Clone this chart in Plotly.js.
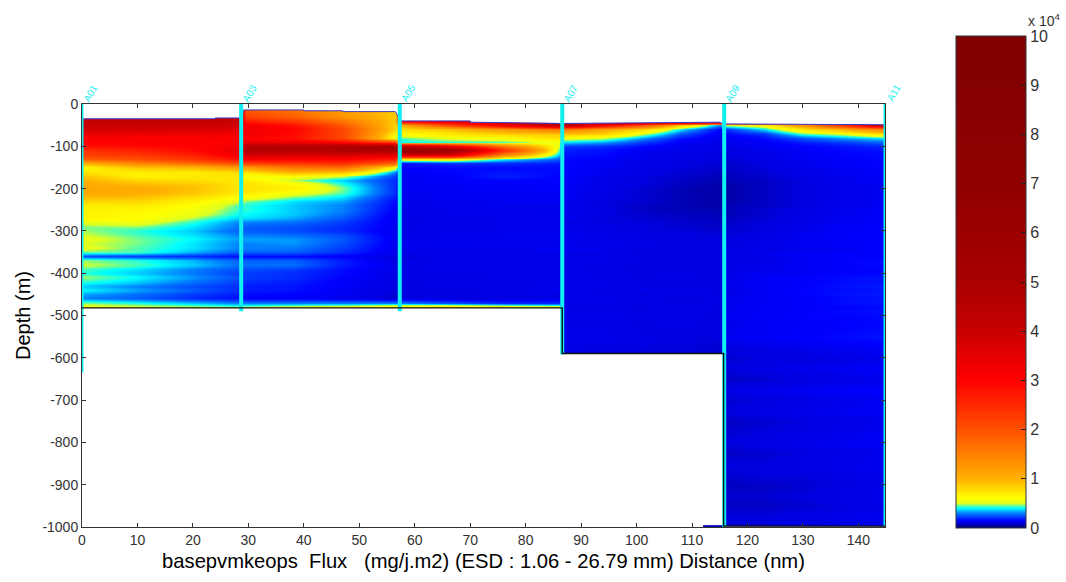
<!DOCTYPE html>
<html><head><meta charset="utf-8">
<script src="https://cdn.plot.ly/plotly-3.0.1.min.js"></script>
<style>html,body{margin:0;padding:0;background:#fff}#c{width:1066px;height:582px}</style>
</head><body><div id="c"></div>
<script>
// Depth rows (m)
const depths=[-10,-20,-30,-40,-50,-60,-70,-80,-90,-100,-110,-120,-130,-140,-150,-160,-170,-180,-190,-200,-210,-220,-230,-240,-250,-260,-270,-280,-290,-300,-310,-320,-330,-340,-350,-360,-370,-380,-390,-400,-410,-420,-430,-440,-450,-460,-470,-480,-490,-500,-525,-550,-575,-600,-625,-650,-675,-700,-725,-750,-775,-800,-825,-850,-875,-900,-925,-950,-975,-1000];
// Distance columns (nm)
const distances=[0,10,20,28.5,29.5,38,47,56.5,57.5,66,76,86,86.5,94,101,108,115,116,123,130,137,145];
// Flux, x 10^4, one profile per distance
const p000=[4,4,4,4.2,4,3.8,3.4,3,3,2.8, 2.4,2.2,1.8,1,.62,.72,.9,1,1.05,1.1, 1.05,.95,.8,.68,.65,.65,.65,.52,.46,.48, .5,.53,.5,.53,.45,.24,.47,.5,.44,.42, .48,.42,.36,.4,.33,.3,.47,.55,.55,.55];
const p010=[4,4,4,4.2,4,3.8,3.3,3,3,2.9, 2.6,2.3,2,1.4,.9,.68,.65,.8,.95,1.05, 1.02,.92,.8,.7,.64,.62,.62,.55,.46,.42, .44,.46,.46,.44,.44,.22,.42,.44,.38,.36, .4,.36,.3,.33,.28,.26,.42,.52,.52,.52];
const p020=[4,4,4,4.1,4,3.7,3.3,3,3,3, 2.9,2.6,2.3,1.7,.95,.7,.7,.76,.88,.92, .88,.76,.66,.6,.56,.54,.48,.42,.38,.36, .38,.4,.38,.38,.34,.2,.34,.36,.3,.29, .32,.28,.24,.26,.22,.2,.36,.5,.5,.5];
const p028=[4,4,4,4,3.8,3.5,3.2,3.1,3,3.2, 3.4,3.2,2.8,2,1.2,.78,.72,.7,.72,.72, .68,.6,.5,.44,.42,.4,.36,.3,.28,.26, .3,.32,.3,.3,.26,.16,.26,.28,.24,.22, .24,.22,.2,.2,.18,.16,.3,.48,.5,.5];
const p029=[1.9,2,2.2,2.7,3.2,3.3,3.2,3,3.4,4.6, 4.6,3.8,3,2.2,1.2,.72,.56,.68,.75,.75, .7,.58,.46,.42,.42,.4,.38,.3,.26,.26, .3,.33,.3,.3,.26,.16,.26,.28,.24,.22, .22,.2,.18,.18,.16,.14,.3,.5,.5,.5];
const p038=[1.7,1.7,1.9,2.3,2.8,3,2.9,2.8,3.3,4.6, 4.6,3.6,3,2.3,1.6,1,.6,.48,.62,.68, .55,.46,.38,.36,.36,.36,.33,.28,.24,.24, .28,.32,.32,.29,.26,.16,.26,.28,.22,.2, .2,.18,.17,.17,.15,.14,.3,.55,.55,.55];
const p047=[1.2,1.2,1.3,1.6,1.9,2.1,2.1,2.1,3,4.8, 4.8,3.6,3,2.4,1.7,.9,.5,.36,.42,.46, .44,.38,.33,.3,.3,.28,.25,.22,.2,.2, .24,.25,.24,.22,.2,.14,.18,.18,.16,.16, .15,.14,.14,.13,.13,.12,.3,.6,.6,.6];
const p056=[.85,.85,.85,.85,.8,.8,.65,.5,2.2,5, 4.8,3.4,2.6,1.8,.6,.3,.22,.2,.2,.2, .2,.18,.16,.15,.14,.13,.13,.13,.13,.12, .13,.13,.13,.12,.12,.1,.11,.12,.11,.11, .11,.1,.1,.1,.09,.09,.3,.7,.7,.7];
const p057=[3,3,3,3,1,.75,.6,.44,.4,4.5, 6,3.5,.6,.17,.15,.14,.13,.13,.13,.13, .13,.12,.12,.12,.11,.11,.11,.11,.11,.11, .12,.12,.12,.12,.12,.1,.11,.11,.11,.11, .11,.1,.1,.1,.1,.1,.3,.7,.7,.7];
const p066=[3.5,3.5,3.5,3.5,2,.9,.7,.52,.42,3.5, 5.5,3.5,.65,.2,.16,.15,.14,.14,.14,.13, .13,.13,.12,.12,.12,.12,.12,.11,.12,.12, .12,.12,.13,.12,.12,.11,.12,.12,.11,.11, .11,.11,.11,.1,.1,.1,.25,.75,.75,.75];
const p076=[4,4,4,4,3.2,1.2,.8,.6,.43,1.6, 2.5,1.3,.4,.2,.16,.17,.19,.15,.14,.14, .13,.13,.13,.12,.12,.12,.12,.12,.12,.12, .13,.12,.12,.12,.12,.11,.12,.12,.11,.12, .11,.11,.11,.11,.11,.1,.2,.7,.7,.7];
const p086=[4,4,4,4,4.4,1.6,.85,.75,.55,.5, .44,.35,.25,.18,.16,.16,.15,.15,.15,.14, .14,.13,.13,.12,.12,.13,.12,.12,.12,.12, .13,.12,.12,.13,.12,.11,.12,.12,.11,.12, .12,.11,.12,.12,.11,.11,.2,.6,.6,.6];
const p087=[5,5,5,5,4.5,1.6,.85,.55,.38,.22, .18,.17,.16,.15,.15,.16,.15,.14,.14,.13, .14,.13,.13,.12,.12,.13,.12,.11,.12,.12, .13,.12,.12,.13,.12,.11,.12,.12,.11,.12, .12,.11,.12,.12,.11,.12,.11,.11,.12,.12, .11,.12,.11,.11];
const p094=[5,5,5,5,3,1.1,.8,.5,.33,.2, .17,.16,.14,.13,.13,.12,.12,.11,.12,.11, .11,.11,.1,.1,.11,.1,.1,.1,.11,.11, .12,.11,.12,.12,.11,.11,.12,.11,.11,.11, .11,.11,.12,.11,.11,.12,.11,.11,.11,.12, .11,.12,.1,.1];
const p101=[5,5,5,5,2,.8,.5,.32,.22,.16, .13,.12,.12,.11,.11,.11,.1,.1,.1,.09, .09,.09,.09,.08,.08,.09,.09,.1,.1,.1, .11,.1,.11,.11,.1,.1,.11,.1,.1,.1, .11,.1,.11,.11,.1,.11,.11,.1,.11,.11, .1,.11,.1,.09];
const p108=[5,5,5,5,.8,.38,.24,.17,.14,.12, .12,.11,.11,.1,.1,.09,.09,.08,.08,.07, .07,.07,.07,.07,.07,.08,.08,.09,.09,.1, .1,.1,.1,.11,.1,.1,.11,.1,.1,.11, .11,.1,.11,.11,.11,.1,.11,.11,.12,.11, .11,.1,.1,.09];
const p115=[5,5,5,5,.3,.15,.12,.12,.11,.11, .11,.1,.1,.09,.09,.08,.07,.07,.06,.06, .06,.06,.06,.06,.07,.07,.08,.08,.08,.09, .1,.1,.1,.1,.1,.1,.1,.11,.1,.1, .1,.1,.11,.1,.11,.11,.1,.1,.11,.1, .1,.1,.09,.09];
const p116=[5,5,5,5,.5,.2,.15,.13,.12,.11, .1,.1,.09,.09,.08,.08,.07,.07,.06,.06, .06,.06,.06,.07,.07,.07,.08,.08,.09,.09, .1,.1,.1,.1,.11,.1,.11,.11,.11,.12, .11,.12,.12,.11,.12,.12,.13,.12,.13,.13, .12,.13,.1,.09, .1,.08,.11,.09,.1,.08,.09,.1,.08,.1,.09,.08,.09,.08,.1,.09];
const p123=[5,5,5,5,.6,.38,.2,.16,.14,.13, .12,.12,.11,.1,.1,.09,.09,.08,.08,.08, .08,.08,.08,.08,.09,.09,.09,.1,.1,.1, .11,.11,.12,.11,.12,.12,.11,.12,.12,.13, .14,.13,.14,.13,.14,.13,.14,.14,.13,.14, .13,.14,.11,.1, .11,.09,.12,.1,.11,.09,.1,.11,.09,.1,.1,.08,.09,.08,.1,.09];
const p130=[5,5,5,5,1.2,.7,.42,.25,.18,.15, .14,.13,.13,.12,.12,.11,.11,.1,.1,.1, .1,.1,.1,.1,.11,.11,.11,.11,.12,.12, .13,.13,.13,.12,.13,.14,.13,.14,.13,.14, .15,.14,.15,.15,.15,.14,.15,.14,.15,.15, .14,.15,.12,.1, .12,.1,.13,.11,.12,.1,.11,.12,.1,.11,.1,.09,.1,.09,.11,.1];
const p137=[5,5,5,5,2.3,1,.5,.32,.22,.17, .16,.15,.14,.14,.13,.13,.12,.12,.12,.12, .12,.12,.12,.12,.12,.13,.13,.13,.14,.14, .14,.14,.14,.13,.14,.14,.15,.15,.14,.15, .16,.16,.17,.16,.17,.16,.16,.15,.16,.15, .15,.16,.13,.11, .13,.11,.14,.12,.13,.11,.12,.13,.11,.12,.11,.1,.11,.1,.12,.11];
const p145=[5,5,5,5,4,1.5,.7,.38,.27,.2, .17,.16,.16,.15,.15,.14,.14,.14,.13,.13, .13,.13,.13,.13,.14,.14,.14,.14,.15,.15, .15,.15,.15,.14,.15,.15,.16,.16,.15,.16, .17,.17,.18,.17,.18,.17,.17,.16,.17,.16, .16,.17,.14,.12, .14,.12,.15,.13,.14,.12,.13,.14,.12,.13,.12,.11,.12,.11,.13,.12];
const profiles=[p000,p010,p020,p028,p029,p038,p047,p056,p057,p066,p076,p086,p087,p094,p101,p108,p115,p116,p123,p130,p137,p145];
// Sea surface and sea floor outlines
const surfaceX=[0,24,24,28.7,29.2,40,40,47,47,56.5,57.5,70,70,86,86.3,115,115.5,145];
const surfaceY=[-35,-35,-33,-33,-14,-14,-16,-16,-18,-18,-40,-40,-43,-45,-46,-43,-47,-49];
const floorX=[0,57,86.6,86.6,115.7,115.7,144.8];
const floorY=[-482,-482,-482,-590,-590,-998,-998];
const sliverX=[112,115.7];
const sliverY=[-998,-998];
// Stations
const stationNames=['A01','A03','A05','A07','A09','A11'];
const stationX=[0,28.7,57.3,86.6,115.8,144.8];
const stationBottom=[-635,-490,-490,-592,-1000,-1000];
const stationWidth=[3,4,4,4,4,3];
// Colour map: value (x 10^4) and colour
const cmapValues=[0,.06,.1,.15,.3,.4,.45,.5,.6,1,1.5,2,3,4,5,7,10];
const cmapColors=['#00007f','#0000a8','#0000e0','#0000ff','#0080ff','#00ffff','#60ffa0','#e0ff20','#ffff00','#ffb000','#ff8000','#ff5000','#ff0000','#c80000','#a80000','#900000','#800000'];
const cbTicks=[0,1,2,3,4,5,6,7,8,9,10];
const xTicks=[0,10,20,30,40,50,60,70,80,90,100,110,120,130,140];
const yTicks=[0,-100,-200,-300,-400,-500,-600,-700,-800,-900,-1000];

const font='"Liberation Sans",Arial,sans-serif';
const traces=[{
  type:'heatmap',x:distances,y:depths,z:profiles,transpose:true,zsmooth:'best',
  zmin:0,zmax:10,hoverinfo:'skip',
  colorscale:cmapValues.map((v,i)=>[v/10,cmapColors[i]]),
  colorbar:{x:(956-82)/803,xanchor:'left',xpad:0,y:(527-528)/423,yanchor:'bottom',ypad:0,
    thickness:70,thicknessmode:'pixels',len:492,lenmode:'pixels',
    tickmode:'array',tickvals:cbTicks,ticktext:cbTicks.map(String),
    ticks:'inside',ticklen:5,tickwidth:1,tickcolor:'#222',
    outlinewidth:1,outlinecolor:'#333',borderwidth:0,
    tickfont:{family:font,size:16,color:'#333'}}
},{
  type:'scatter',mode:'none',x:[...surfaceX,145,0],y:[...surfaceY,0,0],fill:'toself',fillcolor:'#fff',hoverinfo:'skip',showlegend:false
},{
  type:'scatter',mode:'none',x:[...floorX,144.8,0],y:[...floorY,-1000,-1000],fill:'toself',fillcolor:'#fff',hoverinfo:'skip',showlegend:false
},{
  type:'scatter',mode:'lines',x:surfaceX,y:surfaceY,line:{color:'#3a3ac8',width:1},hoverinfo:'skip',showlegend:false
},{
  type:'scatter',mode:'lines',x:sliverX,y:sliverY,line:{color:'#0000b0',width:2},hoverinfo:'skip',showlegend:false
}];
stationX.forEach((x,i)=>traces.push({type:'scatter',mode:'lines',x:[x,x],y:[0,stationBottom[i]],cliponaxis:false,
  line:{color:'#10f0f0',width:stationWidth[i]},hoverinfo:'skip',showlegend:false}));
traces.push({type:'scatter',mode:'lines',x:floorX,y:floorY,line:{color:'#111',width:1.4},hoverinfo:'skip',showlegend:false});

const annotations=stationNames.map((n,i)=>({x:stationX[i],y:0,xref:'x',yref:'y',text:n,showarrow:false,
  xshift:8,yshift:11,textangle:-60,font:{family:font,size:10,color:'#20f0f0'}}));
annotations.push({xref:'paper',yref:'paper',x:(1044-82)/803,y:1+(104-20)/423,xanchor:'center',yanchor:'middle',text:'x 10<sup>4</sup>',showarrow:false,
  font:{family:font,size:14,color:'#333'}});

Plotly.newPlot('c',traces,{
  width:1066,height:582,showlegend:false,paper_bgcolor:'#fff',plot_bgcolor:'#fff',
  margin:{l:82,r:181,t:104,b:55,pad:0,autoexpand:false},
  font:{family:font,color:'#333'},
  xaxis:{range:[0,144.8],tickmode:'array',tickvals:xTicks,ticktext:xTicks.map(String),ticks:'inside',ticklen:4,tickcolor:'#333',showgrid:false,zeroline:false,
    showline:true,linecolor:'#333',linewidth:1,mirror:'ticks',tickfont:{family:font,size:14,color:'#333'},
    title:{text:'basepvmkeops  Flux   (mg/j.m2) (ESD : 1.06 - 26.79 mm) Distance (nm)',standoff:7,font:{family:font,size:20.2,color:'#000'}}},
  yaxis:{range:[-1000,0],tickmode:'array',tickvals:yTicks,ticktext:yTicks.map(String),ticks:'inside',ticklen:4,tickcolor:'#333',showgrid:false,zeroline:false,
    showline:true,linecolor:'#333',linewidth:1,mirror:'ticks',tickfont:{family:font,size:14,color:'#333'},
    title:{text:'Depth (m)',standoff:6,font:{family:font,size:20,color:'#000'}}},
  annotations
},{displayModeBar:false,staticPlot:true});
</script></body></html>
